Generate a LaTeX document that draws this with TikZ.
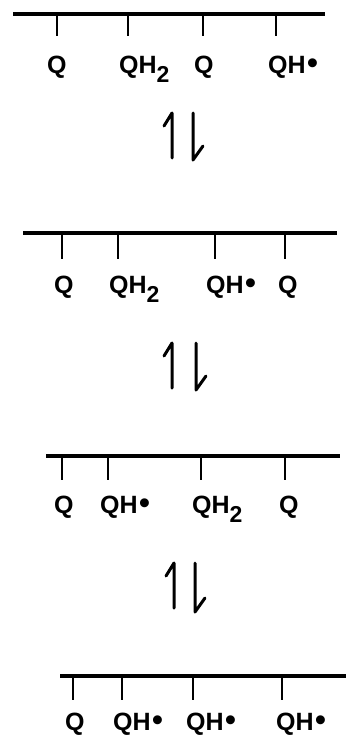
\documentclass[tikz,border=0pt]{standalone}
\usepackage{fontspec}
\setmainfont{Liberation Sans}
\newcommand{\subtwo}{\raisebox{-0.38em}{\fontsize{23}{23}\selectfont 2}}
\newcommand{\rad}{\hspace{1.5pt}\smash{\fontsize{31}{31}\selectfont•}}
\begin{document}
\begin{tikzpicture}[x=1pt,y=-1pt,
  membrane/.style={line width=3.2pt},
  tickmark/.style={line width=2.4pt},
  harp/.style={line width=3pt, line cap=round, line join=round},
  lbl/.style={anchor=base west, inner sep=0pt, font=\fontsize{25}{25}\selectfont\bfseries}]
\useasboundingbox (0,0) rectangle (346,736);

% ---------- panel 1
\coordinate (m1a) at (13,14); \coordinate (m1b) at (325,14);
\draw[membrane] (m1a) -- (m1b);
\foreach \x/\n in {57/1,128/2,203/3,276/4}{
  \coordinate (t1\n) at (\x,14); \coordinate (e1\n) at (\x,36);
  \draw[tickmark] (t1\n) -- (e1\n);}
\node[lbl] (l11) at (47,73) {Q};
\node[lbl] (l12) at (119,73) {QH\subtwo};
\node[lbl] (l13) at (194,73) {Q};
\node[lbl] (l14) at (268,73) {QH\rad};

% arrows 1
\coordinate (a1b) at (172,158); \coordinate (a1t) at (172,113); \coordinate (a1h) at (164,126);
\draw[harp] (a1b) -- (a1t) -- (a1h);
\coordinate (b1t) at (193,113); \coordinate (b1b) at (193,160); \coordinate (b1h) at (203,146);
\draw[harp] (b1t) -- (b1b) -- (b1h);

% ---------- panel 2
\coordinate (m2a) at (23,233); \coordinate (m2b) at (337,233);
\draw[membrane] (m2a) -- (m2b);
\foreach \x/\n in {62/1,118/2,215/3,285/4}{
  \coordinate (t2\n) at (\x,233); \coordinate (e2\n) at (\x,259);
  \draw[tickmark] (t2\n) -- (e2\n);}
\node[lbl] (l21) at (54,293) {Q};
\node[lbl] (l22) at (109,293) {QH\subtwo};
\node[lbl] (l23) at (206,293) {QH\rad};
\node[lbl] (l24) at (278,293) {Q};

% arrows 2
\coordinate (a2b) at (172,388); \coordinate (a2t) at (172,343); \coordinate (a2h) at (164,356);
\draw[harp] (a2b) -- (a2t) -- (a2h);
\coordinate (b2t) at (196,343); \coordinate (b2b) at (196,390); \coordinate (b2h) at (206,376);
\draw[harp] (b2t) -- (b2b) -- (b2h);

% ---------- panel 3
\coordinate (m3a) at (46,456); \coordinate (m3b) at (340,456);
\draw[membrane] (m3a) -- (m3b);
\foreach \x/\n in {62/1,108/2,201/3,285/4}{
  \coordinate (t3\n) at (\x,456); \coordinate (e3\n) at (\x,480);
  \draw[tickmark] (t3\n) -- (e3\n);}
\node[lbl] (l31) at (54,513) {Q};
\node[lbl] (l32) at (100,513) {QH\rad};
\node[lbl] (l33) at (192,513) {QH\subtwo};
\node[lbl] (l34) at (279,513) {Q};

% arrows 3
\coordinate (a3b) at (174,608); \coordinate (a3t) at (174,563); \coordinate (a3h) at (166,576);
\draw[harp] (a3b) -- (a3t) -- (a3h);
\coordinate (b3t) at (195,563); \coordinate (b3b) at (195,612); \coordinate (b3h) at (205,598);
\draw[harp] (b3t) -- (b3b) -- (b3h);

% ---------- panel 4
\coordinate (m4a) at (60,676); \coordinate (m4b) at (346,676);
\draw[membrane] (m4a) -- (m4b);
\foreach \x/\n in {73/1,122/2,193/3,282/4}{
  \coordinate (t4\n) at (\x,676); \coordinate (e4\n) at (\x,700);
  \draw[tickmark] (t4\n) -- (e4\n);}
\node[lbl] (l41) at (65,730) {Q};
\node[lbl] (l42) at (113,730) {QH\rad};
\node[lbl] (l43) at (186,730) {QH\rad};
\node[lbl] (l44) at (276,730) {QH\rad};
\end{tikzpicture}
\end{document}
